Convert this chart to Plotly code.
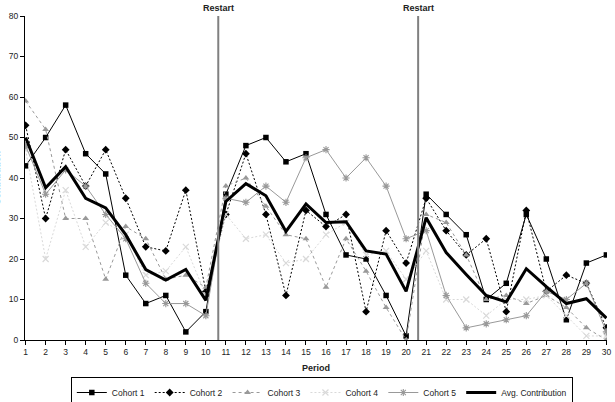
import plotly.graph_objects as go

periods = list(range(1, 31))
cohort1 = [43, 50, 58, 46, 41, 16, 9, 11, 2, 7, 36, 48, 50, 44, 46, 31, 21, 20, 11, 1,
           36, 31, 26, 10, 14, 31, 20, 5, 19, 21]
cohort2 = [53, 30, 47, 38, 47, 35, 23, 22, 37, 12, 31, 46, 31, 11, 32, 28, 31, 7, 27, 19,
           35, 27, 21, 25, 7, 32, 12, 16, 14, 3]
cohort3 = [59, 52, 30, 30, 15, 28, 25, 15, 16, 13, 38, 40, 33, 26, 25, 13, 25, 17, 8, 0,
           31, 29, 21, 10, 11, 9, 11, 8, 3, 0]
cohort4 = [47, 20, 37, 23, 29, 26, 16, 17, 23, 11, 31, 25, 26, 19, 20, 26, 29, 21, 22, 15,
           22, 10, 10, 6, 10, 10, 11, 6, 1, 1]
cohort5 = [48, 36, 42, 38, 31, 25, 14, 9, 9, 6, 35, 34, 38, 34, 45, 47, 40, 45, 38, 25,
           27, 11, 3, 4, 5, 6, 12, 10, 14, 2]
avg = [50, 37.6, 42.8, 35, 32.6, 26, 17.4, 14.8, 17.4, 9.8, 34.2, 38.6, 35.6, 26.8, 33.6,
       29, 29.2, 22, 21.2, 12, 30.2, 21.6, 16.2, 11, 9.4, 17.6, 13.2, 9, 10.2, 5.4]
restarts = [10.62, 20.6]
y_ticks = [0, 10, 20, 30, 40, 50, 60, 70, 80]

FONT = "Liberation Sans, Arial, sans-serif"

fig = go.Figure()
fig.add_trace(go.Scatter(x=periods, y=cohort1, name="Cohort 1", mode="lines+markers",
                         line=dict(color="#000000", width=1),
                         marker=dict(symbol="square", size=5.5, color="#000000")))
fig.add_trace(go.Scatter(x=periods, y=cohort2, name="Cohort 2", mode="lines+markers",
                         line=dict(color="#000000", width=1, dash="2px,2px"),
                         marker=dict(symbol="diamond", size=6, color="#000000")))
fig.add_trace(go.Scatter(x=periods, y=cohort3, name="Cohort 3", mode="lines+markers",
                         line=dict(color="#999999", width=1, dash="3px,3px"),
                         marker=dict(symbol="triangle-up", size=6, color="#999999")))
fig.add_trace(go.Scatter(x=periods, y=cohort4, name="Cohort 4", mode="lines+markers",
                         line=dict(color="#d9d9d9", width=1, dash="2px,2px"),
                         marker=dict(symbol="x-thin-open", size=6,
                                     line=dict(color="#cfcfcf", width=1.2))))
fig.add_trace(go.Scatter(x=periods, y=cohort5, name="Cohort 5", mode="lines+markers",
                         line=dict(color="#999999", width=1),
                         marker=dict(symbol="asterisk-open", size=6,
                                     line=dict(color="#999999", width=1.1))))
fig.add_trace(go.Scatter(x=periods, y=avg, name="Avg. Contribution", mode="lines",
                         line=dict(color="#000000", width=3)))

for rx in restarts:
    fig.add_shape(type="line", x0=rx, x1=rx, y0=0, y1=80, xref="x", yref="y",
                  line=dict(color="#808080", width=2))
    fig.add_annotation(x=rx, y=1.0, xref="x", yref="paper", yshift=1, text="<b>Restart</b>",
                       showarrow=False, yanchor="bottom",
                       font=dict(family=FONT, size=9, color="#222222"))

fig.add_annotation(x=-0.048, y=0.5, xref="paper", yref="paper", text="<b>Contribution</b>",
                   textangle=-90, showarrow=False, xanchor="center", yanchor="middle",
                   font=dict(family=FONT, size=9, color="#444444"))

fig.add_annotation(x=0.5, y=(340 - 368) / 324, xref="paper", yref="paper", text="<b>Period</b>",
                   showarrow=False, xanchor="center", yanchor="middle",
                   font=dict(family=FONT, size=9, color="#222222"))

fig.update_layout(
    width=615, height=402,
    margin=dict(l=25, r=8, t=16, b=62, autoexpand=False),
    paper_bgcolor="white", plot_bgcolor="white",
    font=dict(family=FONT, size=8, color="#222222"),
    showlegend=True,
    legend=dict(orientation="h", x=0.51, xanchor="center", xref="paper",
                y=1 - 377 / 402, yanchor="top", yref="container",
                bordercolor="#000000", borderwidth=1, bgcolor="white",
                font=dict(family=FONT, size=8.5, color="#222222"),
                itemwidth=30, tracegroupgap=0),
    xaxis=dict(range=[0.97, 30.03], tickmode="array", tickvals=periods,
               ticktext=[str(p) for p in periods], showgrid=False, zeroline=False,
               showline=True, linecolor="#000000", linewidth=1, automargin=False,
               ticks="outside", ticklen=4, tickcolor="#000000",
               tickfont=dict(family=FONT, size=8.5, color="#222222")),
    yaxis=dict(range=[0, 80], tickmode="array", tickvals=y_ticks, showgrid=False,
               zeroline=False, showline=True, linecolor="#000000", linewidth=1,
               automargin=False,
               ticks="outside", ticklen=4, tickcolor="#000000",
               tickfont=dict(family=FONT, size=8.5, color="#222222")),
)

fig.write_html("out.html")
